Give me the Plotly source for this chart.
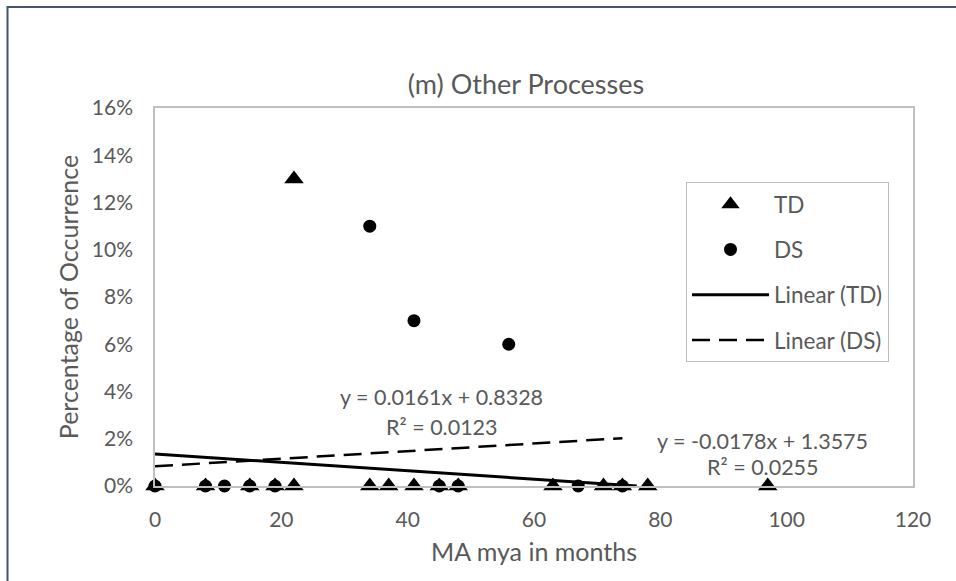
import plotly.graph_objects as go

# ---- data ----
td_x = [0, 8, 15, 19, 22, 22, 34, 37, 41, 45, 48, 63, 71, 74, 78, 97]
td_y = [0, 0, 0, 0, 0, 13, 0, 0, 0, 0, 0, 0, 0, 0, 0, 0]
ds_x = [0, 8, 11, 15, 19, 34, 41, 45, 48, 56, 67, 74]
ds_y = [0, 0, 0, 0, 0, 11, 7, 0, 0, 6, 0, 0]

td_slope, td_intercept, td_r2 = -0.0178, 1.3575, 0.0255
ds_slope, ds_intercept, ds_r2 = 0.0161, 0.8328, 0.0123

x_ticks = [0, 20, 40, 60, 80, 100, 120]
y_ticks = [0, 2, 4, 6, 8, 10, 12, 14, 16]

FONT = "Lato, Calibri, sans-serif"
GREY = "#595959"

# trend line end points (Excel trend lines span the series x-range, clipped at y=0)
td_x0, td_x1 = min(td_x), min(max(td_x), -td_intercept / td_slope)
ds_x0, ds_x1 = min(ds_x), max(ds_x)

fig = go.Figure()
fig.add_trace(go.Scatter(x=td_x, y=td_y, mode="markers", name="TD", legendgroup="a",
                         marker=dict(symbol="triangle-up", size=17, color="black"),
                         cliponaxis=False))
fig.add_trace(go.Scatter(x=ds_x, y=ds_y, mode="markers", name="DS", legendgroup="b",
                         marker=dict(symbol="circle", size=13, color="black"),
                         cliponaxis=False))
fig.add_trace(go.Scatter(x=[td_x0, td_x1],
                         y=[td_intercept + td_slope * td_x0, td_intercept + td_slope * td_x1],
                         mode="lines", name="Linear (TD)", legendgroup="c",
                         line=dict(color="black", width=3)))
fig.add_trace(go.Scatter(x=[ds_x0, ds_x1],
                         y=[ds_intercept + ds_slope * ds_x0, ds_intercept + ds_slope * ds_x1],
                         mode="lines", name="Linear (DS)", legendgroup="d",
                         line=dict(color="black", width=2.5, dash="18px,9px")))

W, H = 956, 581
L, R, T, B = 155, 913, 108, 486


def px(xp):
    return (xp - L) / (R - L)


def py(yp):
    return (B - yp) / (B - T)


fig.update_layout(
    width=W, height=H,
    margin=dict(l=L, r=W - R, t=T, b=H - B),
    paper_bgcolor="white", plot_bgcolor="white",
    font=dict(family=FONT, color=GREY, size=20),
    title=dict(text="(m) Other Processes", x=526 / W, xref="container", xanchor="center",
               y=1 - 85 / H, yref="container", yanchor="middle",
               font=dict(size=27, color=GREY)),
    showlegend=True,
    legend=dict(x=px(686), y=py(182), xanchor="left", yanchor="top",
                bordercolor="#BFBFBF", borderwidth=1, bgcolor="white",
                font=dict(size=22.5, color=GREY), tracegroupgap=13, itemwidth=77,
                traceorder="grouped"),
    xaxis=dict(range=[0, 120], tickvals=x_ticks, showgrid=False, zeroline=False,
               showline=True, linecolor="#BFBFBF", linewidth=1.5, mirror=True,
               ticks="", ticklabelstandoff=14, tickfont=dict(size=21, color=GREY),
               title=dict(text="MA mya in months", standoff=14,
                          font=dict(size=25, color=GREY))),
    yaxis=dict(range=[0, 16], tickvals=y_ticks, ticktext=[f"{v}%" for v in y_ticks],
               showgrid=False, zeroline=False,
               showline=True, linecolor="#BFBFBF", linewidth=1.5, mirror=True,
               ticks="", ticklabelstandoff=16, tickfont=dict(size=21, color=GREY),
               title=dict(text="Percentage of Occurrence", standoff=6,
                          font=dict(size=25, color=GREY))),
)

# trend line equations
ann_font = dict(size=21.5, color=GREY, family=FONT)
fig.add_annotation(x=45.4, y=3.78, text=f"y = {ds_slope}x + {ds_intercept}",
                   showarrow=False, font=ann_font)
fig.add_annotation(x=45.4, y=2.5, text=f"R² = {ds_r2}", showarrow=False, font=ann_font)
fig.add_annotation(x=96.2, y=1.91, text=f"y = {td_slope}x + {td_intercept}",
                   showarrow=False, font=ann_font)
fig.add_annotation(x=96.2, y=0.81, text=f"R² = {td_r2}", showarrow=False, font=ann_font)

# outer chart-area border (top and left edges visible)
border = dict(color="#44546A", width=2)
fig.add_shape(type="line", xref="paper", yref="paper", x0=px(7), x1=px(W), y0=py(7), y1=py(7),
              line=border)
fig.add_shape(type="line", xref="paper", yref="paper", x0=px(7.5), x1=px(7.5), y0=py(6), y1=py(H),
              line=border)

fig.write_html("out.html")
